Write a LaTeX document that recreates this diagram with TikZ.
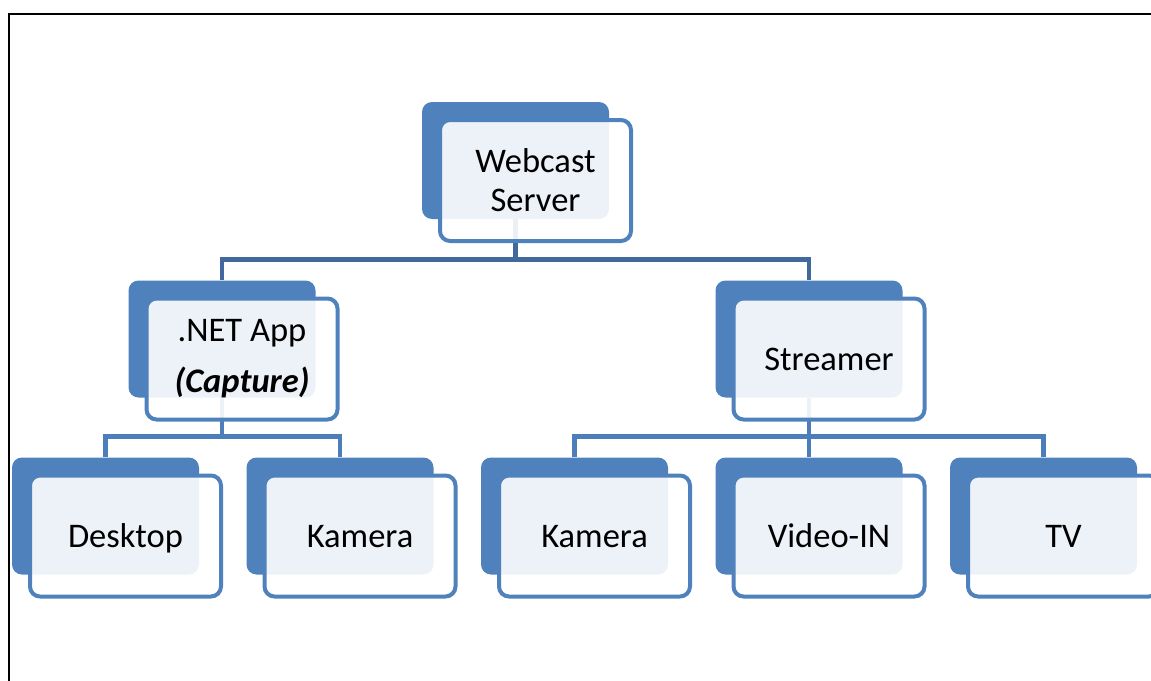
\documentclass[tikz,border=0pt]{standalone}
\usepackage{fontspec}
\setmainfont{Carlito}
\usetikzlibrary{positioning}
\definecolor{accent}{HTML}{4F81BD}
\definecolor{linkdark}{HTML}{41699C}
\definecolor{linklight}{HTML}{4B7EBB}
\tikzstyle{back box}=[
        fill = accent,
        rounded corners = 10pt,
        minimum width = 187pt,
        minimum height = 117pt,
        inner sep = 0pt
    ]
\tikzstyle{front box}=[
    draw = accent,
    line width = 4pt,
    fill = white,
    fill opacity = 0.9,
    text opacity = 1,
    rounded corners = 10pt,
    minimum width = 191pt,
    minimum height = 121pt,
    inner sep = 0pt,
    align = center,
    font = \fontsize{34.5}{39}\selectfont
]
\begin{document}
\begin{tikzpicture}[x=1pt, y=-1pt, node distance={234.5pt},
        link/.style = {draw = linkdark, line width = 4.5pt},
        sublink/.style = {draw = linklight, line width = 4.5pt},
        one line/.style = {text height = 30.5pt, text depth = 8pt},
        front of/.style = {at = {([xshift=20pt, yshift=-20pt]#1.center)}}]
        \useasboundingbox (0,0) rectangle (1151,680);
        \draw[line width = 2pt] (9,14) rectangle (1180,700);

        % back boxes
        \node[back box] (ws) at (515.5,160.5) {};
        \node[back box] (net) at (222,339) {};
        \node[back box] (str) at (809,339) {};
        \node[back box] (desk) at (105.5,516) {};
        \node[back box] (kam1) [right of = desk] {};
        \node[back box] (kam2) [right of = kam1] {};
        \node[back box] (vid) [right of = kam2] {};
        \node[back box] (tv) [right of = vid] {};

        % connectors
        \draw[link] (ws.south) -- ++(0,41);
        \draw[link] (net.north) -- ++(0,-21) -| (str.north);
        \draw[sublink] (net.south) -- ++(0,40);
        \draw[sublink] (desk.north) -- ++(0,-21) -| (kam1.north);
        \draw[sublink] (str.south) -- (vid.north);
        \draw[sublink] (kam2.north) -- ++(0,-21) -| (tv.north);

        % front boxes
        \node[front box, front of = ws] (ws text) {Webcast\\Server};
        \node[front box, front of = net] (net text) {.NET App\\[12pt]\textbf{\textit{(Capture)}}};
        \node[front box, one line, front of = str] (str text) {Streamer};
        \node[front box, one line, front of = desk] (desk text) {Desktop};
        \node[front box, one line, front of = kam1] (kam1 text) {Kamera};
        \node[front box, one line, front of = kam2] (kam2 text) {Kamera};
        \node[front box, one line, front of = vid] (vid text) {Video-IN};
        \node[front box, one line, front of = tv] (tv text) {TV};

    \end{tikzpicture}
\end{document}
